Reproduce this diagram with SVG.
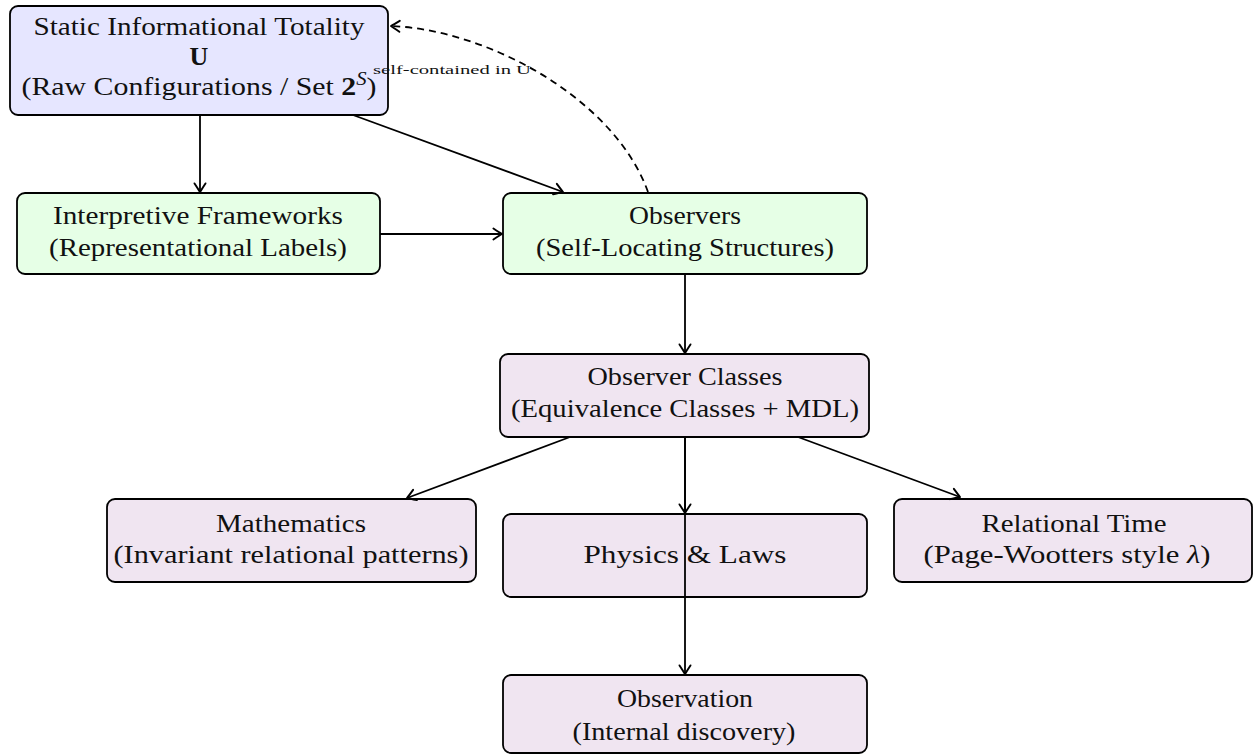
<svg xmlns="http://www.w3.org/2000/svg" width="1255" height="755" viewBox="0 0 1255 755">
<style>
.box{stroke:#000;stroke-width:1.8}
.u{fill:#e6e6ff}
.g{fill:#e6ffe6}
.p{fill:#f0e5f1}
text{font-family:"Liberation Serif","DejaVu Serif",serif;font-size:26px;fill:#111;text-anchor:middle}
.lbl{font-size:13px}
.edge{stroke:#000;stroke-width:1.8;fill:none}
.dash{stroke-dasharray:7,5}
</style>
<defs>
<marker id="tip" markerUnits="userSpaceOnUse" markerWidth="16" markerHeight="16" viewBox="-9 -7 11 14" refX="0" refY="0" orient="auto">
<path d="M -7.5,-4.8 Q -2,-1.2 0,0 Q -2,1.2 -7.5,4.8" fill="none" stroke="#000" stroke-width="1.7" stroke-linecap="round" stroke-linejoin="round"/>
</marker>
</defs>
<g id="n-totality">
<rect class="box u" x="10" y="6" width="378" height="109" rx="8"/>
<text x="199" y="35" textLength="331" lengthAdjust="spacingAndGlyphs">Static Informational Totality</text>
<text x="199" y="65" font-weight="bold">U</text>
<text x="199" y="95" textLength="355" lengthAdjust="spacingAndGlyphs">(Raw Configurations / Set <tspan font-weight="bold">2</tspan><tspan font-style="italic" font-size="18" dy="-10">S</tspan><tspan dy="10">)</tspan></text>
</g>
<g id="n-frameworks">
<rect class="box g" x="17" y="193" width="363" height="81" rx="8"/>
<text x="198" y="224" textLength="290" lengthAdjust="spacingAndGlyphs">Interpretive Frameworks</text>
<text x="198" y="256" textLength="298" lengthAdjust="spacingAndGlyphs">(Representational Labels)</text>
</g>
<g id="n-observers">
<rect class="box g" x="503" y="193" width="364" height="81" rx="8"/>
<text x="685" y="224" textLength="112" lengthAdjust="spacingAndGlyphs">Observers</text>
<text x="685" y="256" textLength="298" lengthAdjust="spacingAndGlyphs">(Self-Locating Structures)</text>
</g>
<g id="n-classes">
<rect class="box p" x="500" y="354" width="369" height="83" rx="8"/>
<text x="685" y="385" textLength="195" lengthAdjust="spacingAndGlyphs">Observer Classes</text>
<text x="685" y="417" textLength="348" lengthAdjust="spacingAndGlyphs">(Equivalence Classes + MDL)</text>
</g>
<g id="n-math">
<rect class="box p" x="107" y="499" width="369" height="83" rx="8"/>
<text x="291" y="532" textLength="150" lengthAdjust="spacingAndGlyphs">Mathematics</text>
<text x="291" y="563" textLength="355" lengthAdjust="spacingAndGlyphs">(Invariant relational patterns)</text>
</g>
<g id="n-physics">
<rect class="box p" x="503" y="514" width="364" height="83" rx="8"/>
<text x="685" y="563" textLength="203" lengthAdjust="spacingAndGlyphs">Physics &amp; Laws</text>
</g>
<g id="n-time">
<rect class="box p" x="894" y="499" width="358" height="83" rx="8"/>
<text x="1074" y="532" textLength="185" lengthAdjust="spacingAndGlyphs">Relational Time</text>
<text x="1067" y="563" textLength="287" lengthAdjust="spacingAndGlyphs">(Page-Wootters style <tspan font-style="italic">λ</tspan>)</text>
</g>
<g id="n-observation">
<rect class="box p" x="503" y="675" width="364" height="78" rx="8"/>
<text x="685" y="707" textLength="136" lengthAdjust="spacingAndGlyphs">Observation</text>
<text x="684" y="740" textLength="223" lengthAdjust="spacingAndGlyphs">(Internal discovery)</text>
</g>
<g id="connectors">
<path class="edge" d="M200,115 L200,192" marker-end="url(#tip)"/>
<path class="edge" d="M353,115 L563,192" marker-end="url(#tip)"/>
<path class="edge" d="M380,234 L502,234" marker-end="url(#tip)"/>
<path class="edge dash" d="M648,192 C615,100 490,30 391,26" marker-end="url(#tip)"/>
<text class="lbl" x="452" y="74" textLength="158" lengthAdjust="spacingAndGlyphs">self-contained in U</text>
<path class="edge" d="M685,274 L685,353" marker-end="url(#tip)"/>
<path class="edge" d="M570,437 L407,498" marker-end="url(#tip)"/>
<path class="edge" d="M685,437 L685,513" marker-end="url(#tip)"/>
<path class="edge" d="M685,437 L685,674" marker-end="url(#tip)"/>
<path class="edge" d="M798,437 L960,497" marker-end="url(#tip)"/>
</g>
</svg>
